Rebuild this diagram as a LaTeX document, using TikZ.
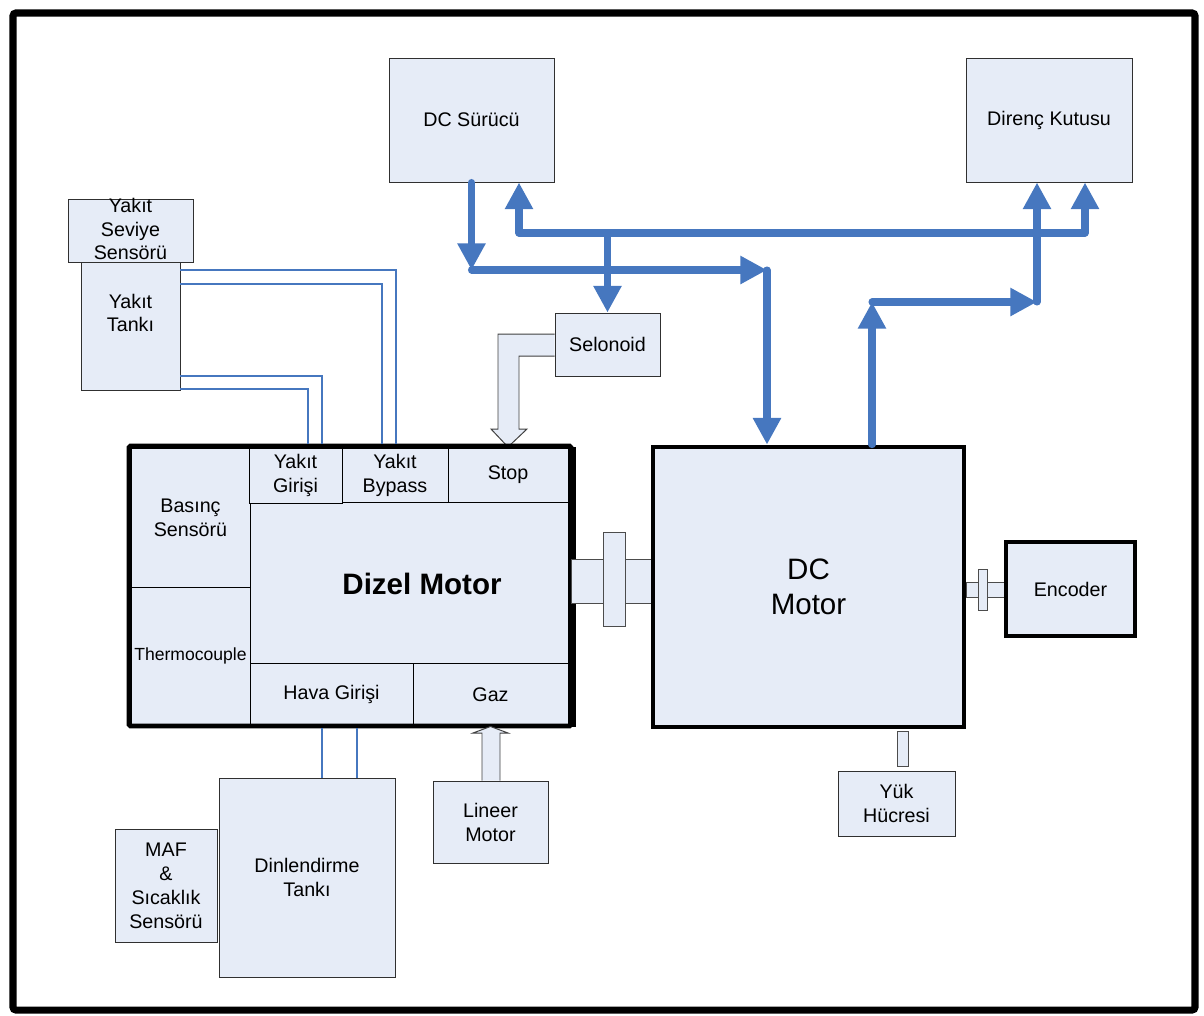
\documentclass[tikz,border=0pt]{standalone}
\usepackage{fontspec}
\setmainfont{Liberation Sans}
\usepackage{tikz}
\usetikzlibrary{arrows.meta,positioning}
\definecolor{busblue}{HTML}{4677BF}
\definecolor{boxfill}{HTML}{E6ECF7}
\definecolor{boxline}{HTML}{303030}
\tikzset{bigtip/.tip={Triangle[length=19pt,width=19pt]}}

\begin{document}
\begin{tikzpicture}[
   x=0.025cm,y=-0.025cm,
   font=\fontsize{14}{17}\selectfont,
   sz/.style 2 args={minimum width=#1*0.025cm,minimum height=#2*0.025cm},
   blok/.style={draw=boxline,line width=0.7pt,fill=boxfill,inner sep=0pt,
                align=center},
   cell/.style={blok,draw=black},
   part/.style={blok,draw=black!70},
   heavy/.style={blok,draw=black,line width=3.4pt},
   big/.style={font=\fontsize{21}{25}\selectfont},
   ar/.style={-bigtip,line width=5pt,busblue,line cap=round,line join=round},
   both/.style={ar,bigtip-bigtip},
   pipe/.style={line width=1.8pt,busblue},
   hollow/.style={draw=black!75,line width=0.7pt,fill=boxfill}]
  \useasboundingbox (0,0) rectangle (1204,1015);
  \node[draw,line width=5pt,rounded corners=2pt,inner sep=0pt,sz={1182}{997}]
       (frame) at (604,511.5) {};

  % top boxes
  \node[blok,sz={165}{124}] (drv) at (471.5,120) {DC Sürücü};
  \node[blok,sz={166}{124}] (dir) at (1049,120) {Direnç Kutusu};
  \node[blok,sz={105}{63}] (sel) at (607.5,344.5) {Selonoid};

  % fuel side
  \node[blok,sz={99}{128}] (tank) at (130.5,326) {};
  \node[align=center] (tanktxt) at (130.5,313) {Yakıt\\Tankı};
  \node[blok,sz={125}{63}] (sev) at (130.5,230.5) {};
  \node[align=center] (sevtxt) at (130.5,229) {Yakıt\\Seviye\\Sensörü};

  % hollow arrows
  \draw[hollow] (sel.west |- 0,334) -- (498,334) -- (498,429) -- (491,429)
     -- (508,447) -- (527,429) -- (519,429) -- (519,356) -- (sel.west |- 0,356);

  % dizel motor
  \node[cell,sz={119}{139}] (bas) at (190.5,517.5) {Basınç\\Sensörü};
  \node[cell,sz={119}{137},font=\fontsize{12.5}{15}\selectfont]
       (thc) at (190.5,655.5) {Thermocouple};
  \node[cell,sz={318}{161}] (mid) at (409,582.5) {};
  \node[cell,sz={93}{55}] (gir) at (295.5,475.5) {Yakıt\\Girişi};
  \node[cell,sz={106}{54}] (byp) at (395,475) {Yakıt\\Bypass};
  \node[cell,sz={120}{54}] (stp) at (508,475) {Stop};
  \node[cell,sz={163}{63}] (hav) at (331.5,694.5) {Hava Girişi};
  \node[cell,sz={155}{63}] (gaz) at (490.5,694.5) {Gaz};
  \node[font=\fontsize{21}{25}\selectfont\bfseries] (dzltxt) at (422,584) {Dizel Motor};
  \node[draw,line width=3.4pt,inner sep=0pt,rounded corners=1pt,sz={442}{280}]
       (dzl) at (350,586) {};
  \draw[line width=3pt] (574,447) -- (574,727);

  % fuel pipes
  \coordinate (p1) at (322,376);
  \coordinate (p2) at (308,389);
  \coordinate (p3) at (396,270);
  \coordinate (p4) at (382,284);
  \draw[pipe] (tank.east |- p1) -- (p1) -- (p1 |- dzl.north);
  \draw[pipe] (tank.east |- p2) -- (p2) -- (p2 |- dzl.north);
  \draw[pipe] (tank.east |- p3) -- (p3) -- (p3 |- dzl.north);
  \draw[pipe] (tank.east |- p4) -- (p4) -- (p4 |- dzl.north);

  % coupling and dc motor
  \node[part,sz={82}{44}] (cshaft) at (612,581) {};
  \node[part,sz={22}{94}] (cflange) at (614,579) {};
  \node[heavy,big,sz={311}{280}] (dcm) at (808.5,587) {DC\\Motor};
  \node[part,sz={39}{15}] (eshaft) at (985.5,589.5) {};
  \node[part,sz={9}{41}] (eflange) at (982.5,589.5) {};
  \node[heavy,line width=3pt,sz={129}{94}] (enc) at (1070.5,589) {Encoder};
  \node[part,sz={11}{35}] (yconn) at (902.5,748.5) {};
  \node[blok,sz={117}{65}] (yuk) at (896.5,803.5) {Yük\\Hücresi};

  % lower boxes
  \node[blok,sz={115}{82}] (lin) at (490.5,822) {Lineer\\Motor};
  \node[blok,sz={176}{199}] (dtank) at (307,877.5) {Dinlendirme\\Tankı};
  \node[blok,sz={102}{113}] (maf) at (166,885.5) {MAF\\\&\\Sıcaklık\\Sensörü};
  \draw[hollow] (lin.north -| 482,0) -- (482,733) -- (473,733) -- (gaz.south)
     -- (508,733) -- (500,733) -- (lin.north -| 500,0);
  \draw[pipe] (322,0 |- dtank.north) -- (322,0 |- dzl.south);
  \draw[pipe] (357,0 |- dtank.north) -- (357,0 |- dzl.south);

  % power bus
  \coordinate (j1) at (471.5,270);
  \coordinate (j2) at (767,270);
  \coordinate (k1) at (519,233);
  \coordinate (k2) at (1085,233);
  \coordinate (m1) at (872,302);
  \coordinate (m2) at (1037,302);
  \draw[ar] (drv.south) -- (j1);
  \draw[ar] (j1) -- (j2);
  \draw[ar] (j2) -- (j2 |- dcm.north);
  \draw[both] (k1 |- drv.south) -- (k1) -- (k2) -- (k2 |- dir.south);
  \draw[ar] (sel.north |- k1) -- (sel.north);
  \draw[ar] (m1 |- dcm.north) -- (m1);
  \draw[ar] (m1) -- (m2);
  \draw[ar] (m2) -- (m2 |- dir.south);
\end{tikzpicture}
\end{document}
